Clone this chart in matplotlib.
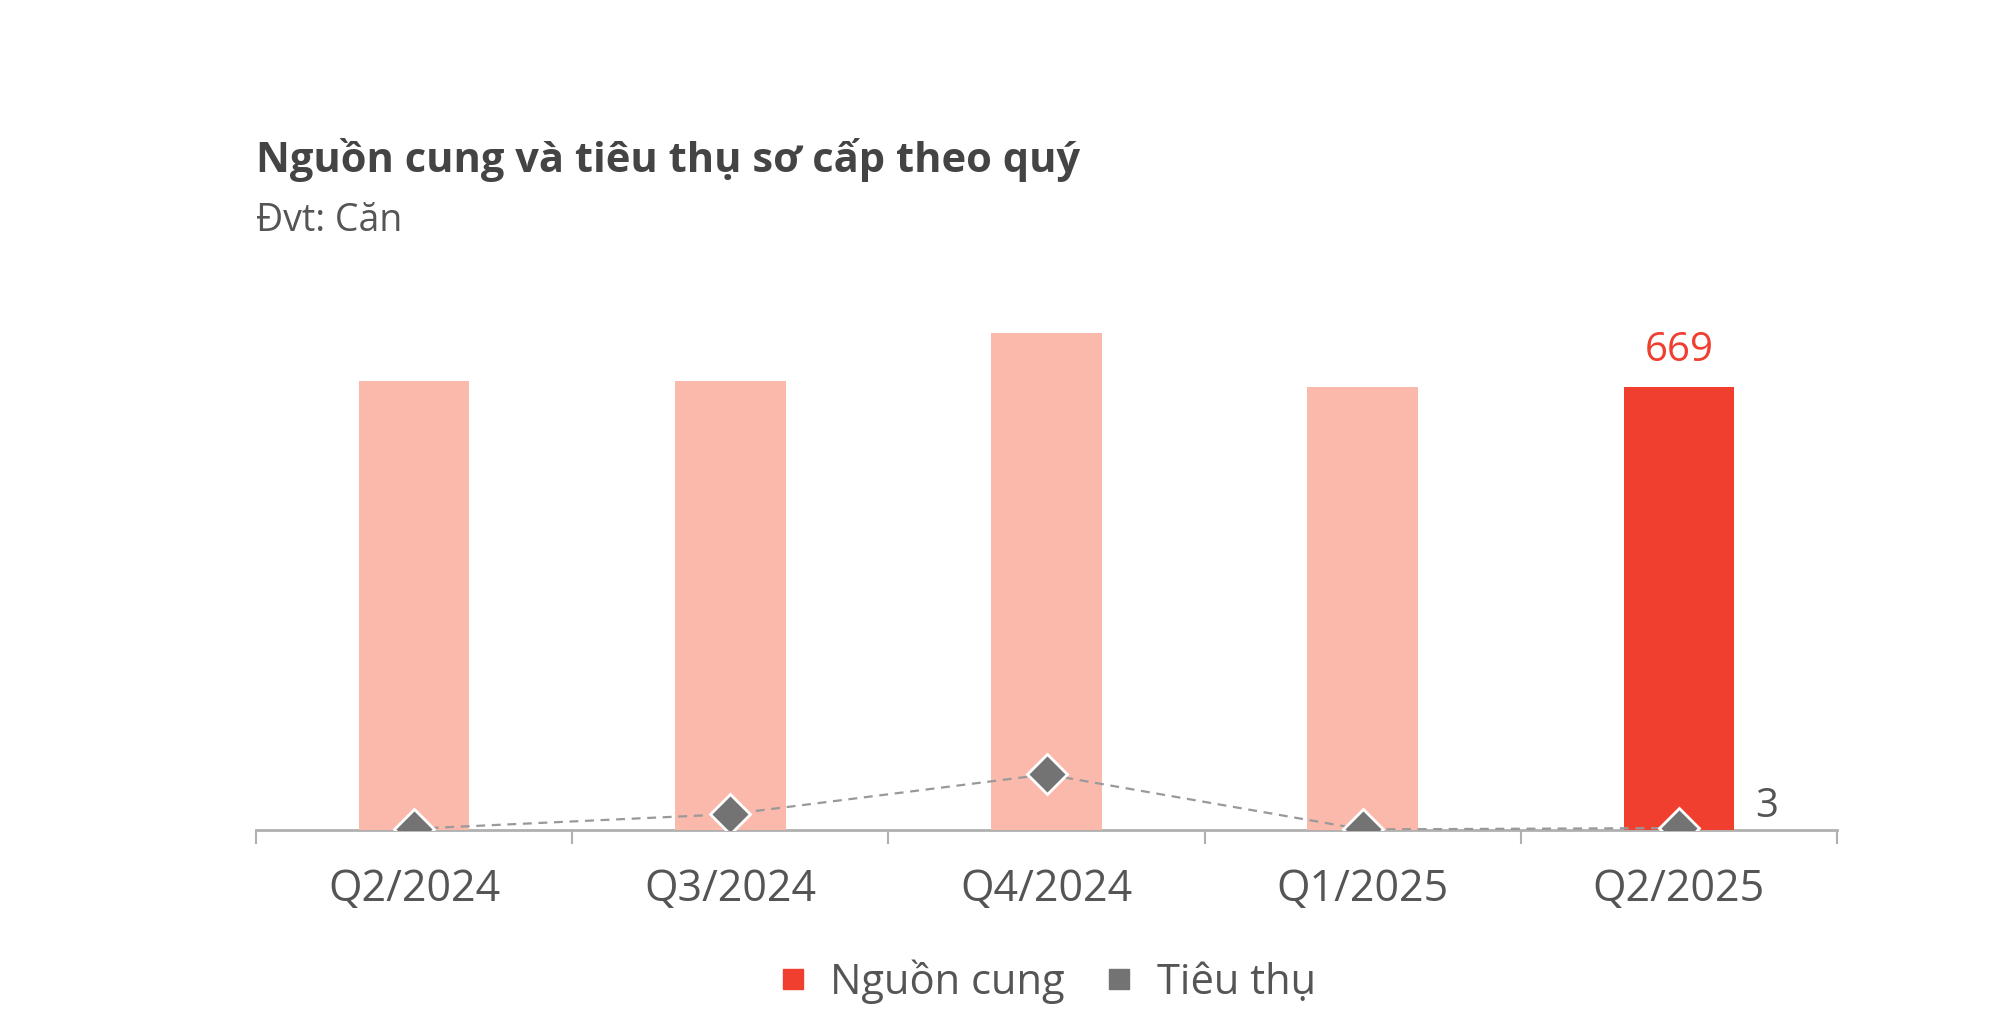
import matplotlib
matplotlib.use("Agg")
import matplotlib.pyplot as plt
from matplotlib.lines import Line2D
import numpy as np

plt.rcParams['font.family'] = ['Open Sans', 'Noto Sans', 'DejaVu Sans']

# --- dữ liệu ---
quarters = ["Q2/2024", "Q3/2024", "Q4/2024", "Q1/2025", "Q2/2025"]
nguon_cung = [677, 677, 750, 669, 669]
tieu_thu = [2, 24, 84, 1, 3]

RED = "#F03E2F"
LIGHT_RED = "#FBB9AC"
GRAY = "#737373"
TEXT = "#444444"

fig = plt.figure(figsize=(20, 10.16), dpi=100)
ax = fig.add_axes([0.128, 0.183, 0.7905, 0.522])

x = np.arange(len(quarters))
colors = [LIGHT_RED] * (len(quarters) - 1) + [RED]
ax.bar(x, nguon_cung, width=0.35, color=colors, zorder=2)

ax.plot(x, tieu_thu, color="#999999", linestyle=(0, (4, 3)), linewidth=1.6, zorder=3)
ax.plot(x, tieu_thu, linestyle="none", marker="D", markersize=20,
        markerfacecolor=GRAY, markeredgecolor="white", markeredgewidth=2, zorder=4)

# nhãn giá trị quý cuối
ax.text(x[-1], nguon_cung[-1] + 24, str(nguon_cung[-1]), color=RED,
        fontsize=29, ha="center", va="bottom")
ax.text(x[-1] + 0.24, tieu_thu[-1] + 2, str(tieu_thu[-1]), color="#555555",
        fontsize=29, ha="left", va="bottom")

ax.set_xlim(-0.5, len(quarters) - 0.5)
ax.set_ylim(0, 800)

for side in ["top", "right", "left"]:
    ax.spines[side].set_visible(False)
ax.spines["bottom"].set_color("#b0b0b0")
ax.spines["bottom"].set_linewidth(2)
ax.spines["bottom"].set_zorder(1)

ax.set_yticks([])
ax.set_xticks(x)
ax.set_xticklabels(quarters, fontsize=31, color="#555555")
ax.tick_params(axis="x", which="major", length=0, pad=27)
ax.set_xticks(np.arange(-0.5, len(quarters)), minor=True)
ax.tick_params(axis="x", which="minor", length=10, width=1.5, color="#b0b0b0")

fig.text(0.128, 0.8425, "Nguồn cung và tiêu thụ sơ cấp theo quý", fontsize=30,
         fontweight="bold", color=TEXT, ha="left", va="center")
fig.text(0.128, 0.7825, "Đvt: Căn", fontsize=27, color="#555555", ha="left", va="center")

handles = [
    Line2D([], [], linestyle="none", marker="s", markersize=15, color=RED),
    Line2D([], [], linestyle="none", marker="s", markersize=15, color=GRAY),
]
# chú thích canh giữa theo trục
fig.legend(handles, ["Nguồn cung", "Tiêu thụ"], loc="center", bbox_to_anchor=(0.523, 0.034),
           ncol=2, frameon=False, fontsize=30, handlelength=0.8, handletextpad=0.5,
           columnspacing=0.9, labelcolor="#555555")

fig.savefig("out.png", dpi=100, facecolor="white")
